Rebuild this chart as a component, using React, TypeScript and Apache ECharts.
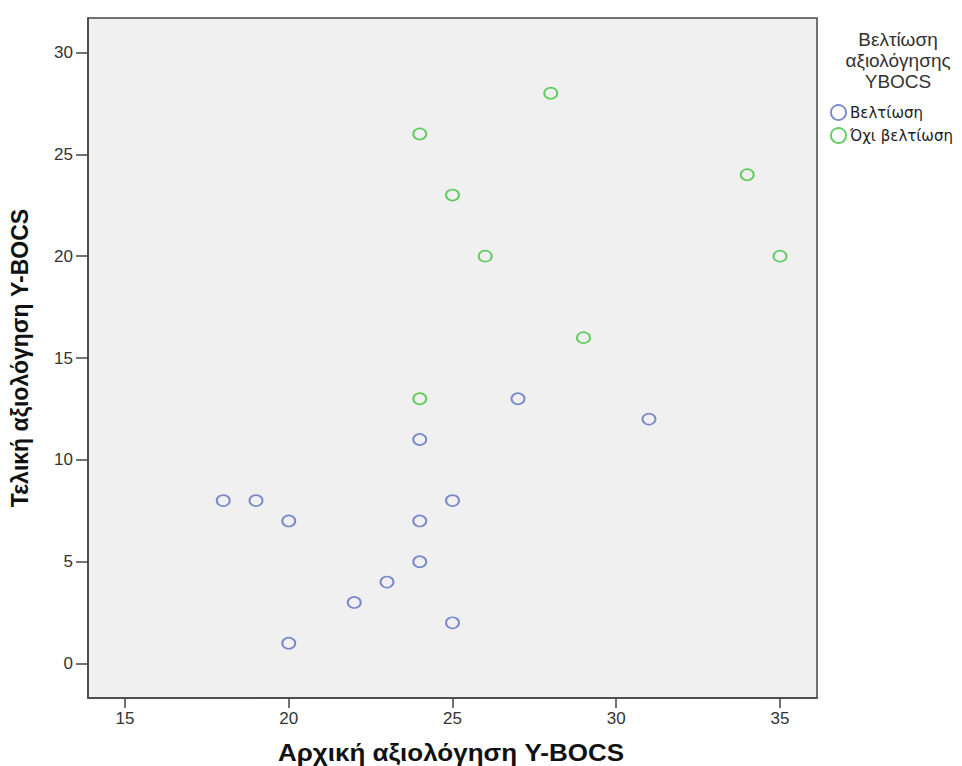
import React, { useEffect, useRef } from "react";
import * as echarts from "echarts";

const seriesNames = ["Βελτίωση", "Όχι βελτίωση"];
const improvedX = [18, 19, 20, 20, 22, 23, 24, 24, 24, 25, 25, 27, 31];
const improvedY = [8, 8, 7, 1, 3, 4, 11, 7, 5, 8, 2, 13, 12];
const notImprovedX = [24, 28, 25, 26, 34, 35, 29, 24];
const notImprovedY = [26, 28, 23, 20, 24, 20, 16, 13];
const xTicks = [15, 20, 25, 30, 35];
const yTicks = [0, 5, 10, 15, 20, 25, 30];
const xTitle = "Αρχική αξιολόγηση Y-BOCS";
const yTitle = "Τελική αξιολόγηση Y-BOCS";
const legendTitle = "Βελτίωση\nαξιολόγησης\nYBOCS";

const colors = ["#5b6fc2", "#3cc33c"];
const FONT = "Liberation Sans, Arial, sans-serif";

export default function App() {
  const ref = useRef<HTMLDivElement>(null);
  useEffect(() => {
    document.body.style.margin = "0";
    const chart = echarts.init(ref.current!, undefined, { renderer: "svg" });
    const pairs = (xs: number[], ys: number[]) => xs.map((x, i) => [x, ys[i]]);
    chart.setOption({
      animation: false,
      backgroundColor: "#ffffff",
      textStyle: { fontFamily: FONT },
      title: {
        text: legendTitle,
        left: 893,
        top: 24,
        textAlign: "center",
        textStyle: {
          fontFamily: FONT,
          fontSize: 19,
          fontWeight: "normal",
          color: "#333",
          lineHeight: 21,
          align: "center",
        },
      },
      legend: {
        orient: "vertical",
        left: 825,
        top: 99,
        itemGap: 6,
        itemWidth: 17,
        itemHeight: 15,
        icon: "circle",
        data: seriesNames.map((n, i) => ({
          name: n,
          itemStyle: { color: "transparent", borderColor: colors[i], borderWidth: 2 },
        })),
        textStyle: { fontFamily: "DejaVu Sans, sans-serif", fontSize: 15, color: "#222", padding: [0, 0, 0, -2] },
      },
      graphic: [
        {
          type: "text",
          x: 451,
          y: 753,
          scaleX: 1.13,
          style: {
            text: xTitle,
            font: "bold 23px Liberation Sans, Arial, sans-serif",
            fill: "#111",
            textAlign: "center",
            textVerticalAlign: "middle",
          },
        },
      ],
      grid: {
        left: 88,
        top: 18,
        right: 145,
        bottom: 68,
        outerBoundsMode: "none",
        containLabel: false,
        show: true,
        backgroundColor: "#f0f0f0",
        borderColor: "#444",
        borderWidth: 1.5,
      },
      xAxis: {
        type: "value",
        min: 13.87,
        max: 36.13,
        splitLine: { show: false },
        axisLine: { show: true, onZero: false, lineStyle: { color: "#444", width: 1.5 } },
        axisTick: { show: true, length: 10, lineStyle: { color: "#444", width: 1.5 }, customValues: xTicks },
        axisLabel: {
          fontFamily: FONT,
          fontSize: 17,
          color: "#333",
          margin: 12,
          customValues: xTicks,
        },
      },
      yAxis: {
        type: "value",
        min: -1.69,
        max: 31.69,
        name: yTitle,
        nameLocation: "middle",
        nameGap: 57,
        nameRotate: 90,
        nameTextStyle: { fontFamily: FONT, fontSize: 23, fontWeight: "bold", color: "#111" },
        splitLine: { show: false },
        axisLine: { show: true, onZero: false, lineStyle: { color: "#444", width: 1.5 } },
        axisTick: { show: true, length: 12, lineStyle: { color: "#444", width: 1.5 }, customValues: yTicks },
        axisLabel: {
          fontFamily: FONT,
          fontSize: 17,
          color: "#333",
          margin: 15,
          customValues: yTicks,
        },
      },
      series: [
        {
          name: seriesNames[0],
          type: "scatter",
          symbol: "circle",
          symbolSize: [13, 11],
          data: pairs(improvedX, improvedY),
          itemStyle: { color: "transparent", borderColor: colors[0], borderWidth: 1.8 },
        },
        {
          name: seriesNames[1],
          type: "scatter",
          symbol: "circle",
          symbolSize: [13, 11],
          data: pairs(notImprovedX, notImprovedY),
          itemStyle: { color: "transparent", borderColor: colors[1], borderWidth: 1.8 },
        },
      ],
    });
    return () => chart.dispose();
  }, []);
  return (
    <div
      ref={ref}
      style={{ position: "fixed", left: 0, top: 0, width: 962, height: 766 }}
    />
  );
}
